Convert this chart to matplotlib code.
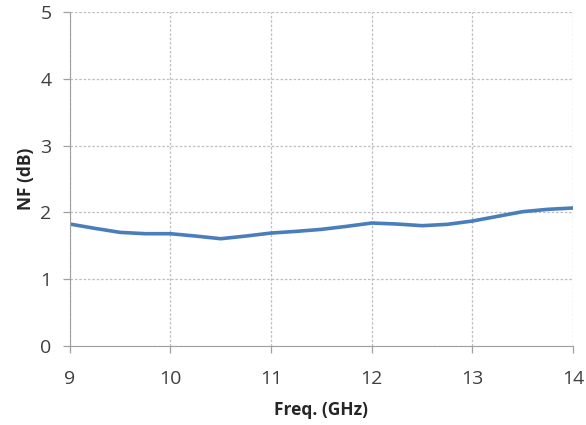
import matplotlib.pyplot as plt

freq = [9.0, 9.25, 9.5, 9.75, 10.0, 10.25, 10.5, 10.75, 11.0, 11.25, 11.5, 11.75, 12.0, 12.25, 12.5, 12.75, 13.0, 13.25, 13.5, 13.75, 14.0]
nf = [1.825, 1.76, 1.70, 1.68, 1.68, 1.645, 1.605, 1.645, 1.69, 1.715, 1.745, 1.79, 1.84, 1.825, 1.80, 1.82, 1.87, 1.94, 2.01, 2.045, 2.065]
xticks = [9, 10, 11, 12, 13, 14]
yticks = [0, 1, 2, 3, 4, 5]

plt.rcParams['font.family'] = ['Open Sans', 'DejaVu Sans']
fig = plt.figure(figsize=(5.86, 4.25), dpi=100)
ax = fig.add_axes([0.119, 0.186, 0.859, 0.786])

ax.plot(freq, nf, color='#4A7EBB', linewidth=2.6, solid_capstyle='round', solid_joinstyle='round')

ax.set_xlim(9, 14)
ax.set_ylim(0, 5)
ax.set_xticks(xticks)
ax.set_yticks(yticks)
ax.grid(True, linestyle=(0, (2, 1.5)), color='#BFBFBF', linewidth=0.9)
for s in ['top', 'right']:
    ax.spines[s].set_visible(False)
for s in ['left', 'bottom']:
    ax.spines[s].set_color('#A0A0A0')
ax.tick_params(colors='#A0A0A0', labelcolor='#404040', labelsize=14, length=5, width=0.9)
ax.tick_params(axis='x', pad=12)
ax.tick_params(axis='y', pad=8)

ax.set_xlabel('Freq. (GHz)', fontsize=12.5, fontweight='bold', color='#262626', labelpad=10)
ax.set_ylabel('NF (dB)', fontsize=12.5, fontweight='bold', color='#262626', labelpad=4)

fig.savefig('out.png', dpi=100)
